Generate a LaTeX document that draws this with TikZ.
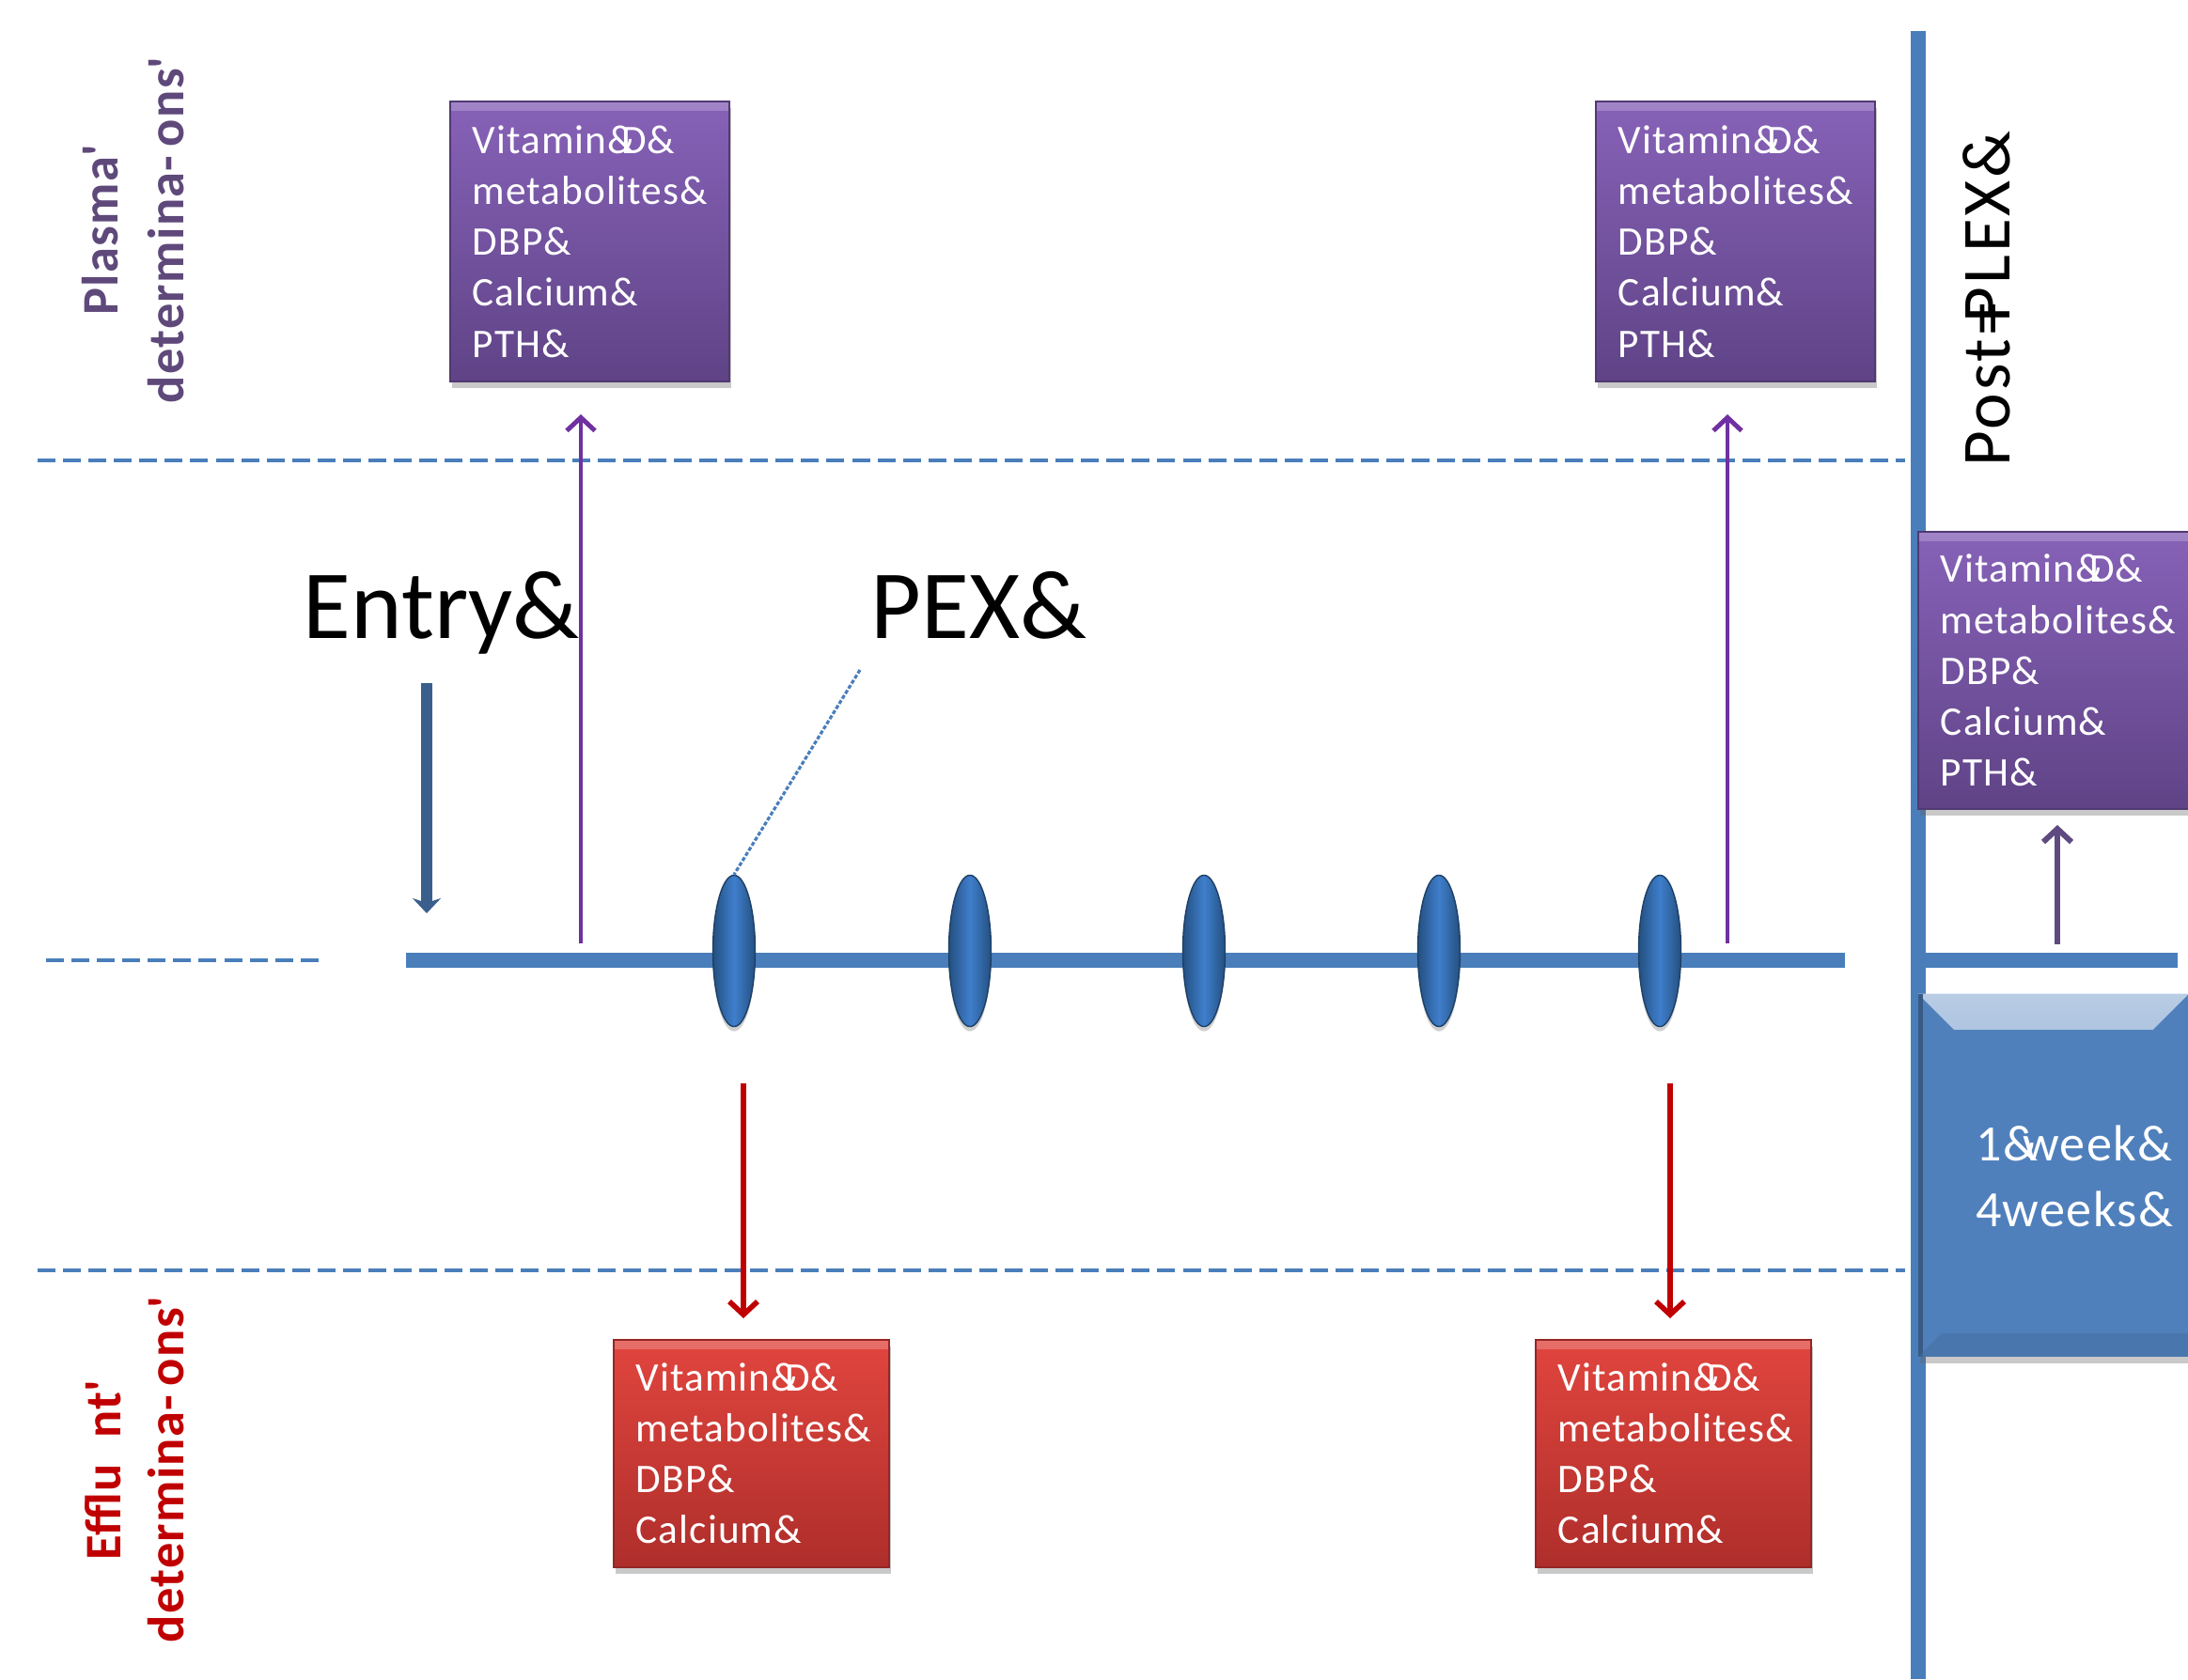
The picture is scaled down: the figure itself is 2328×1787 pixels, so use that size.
\documentclass[tikz,border=0pt]{standalone}
\usepackage{fontspec}
\setmainfont{Carlito}[LetterSpace=2.5]
\usetikzlibrary{arrows.meta,shadows,shapes.geometric}

\definecolor{tlblue}{HTML}{4A7EBB}
\definecolor{entryblue}{HTML}{3A5F8C}
\definecolor{plum}{HTML}{7030A0}
\definecolor{plumdark}{HTML}{5E4A80}
\definecolor{plasmalab}{HTML}{5F497A}
\definecolor{effred}{HTML}{C00000}
\definecolor{purpleT}{HTML}{8762B8}
\definecolor{purpleB}{HTML}{5F4386}
\definecolor{redT}{HTML}{E1453E}
\definecolor{redB}{HTML}{AE2E2B}
\definecolor{boxblue}{HTML}{5080BC}
\definecolor{ellmid}{HTML}{3F7ECC}
\definecolor{elledge}{HTML}{24507F}

\tikzset{
  x=0.01cm, y=-0.01cm,
  sepline/.style={draw=tlblue, line width=1pt, dash pattern=on 5.4pt off 2.3pt},
  timeline/.style={draw=tlblue, line width=4.3pt},
  databox/.style={rectangle, anchor=north west, inner xsep=0.24cm, inner ysep=0pt,
    text=white, align=left, font=\fontsize{12.3}{15.4}\selectfont,
    drop shadow={shadow xshift=0.02cm, shadow yshift=-0.07cm, opacity=0.35, fill=black!60},
    path picture={\fill[white,opacity=0.22] (path picture bounding box.north west)
      rectangle ([yshift=-0.1cm]path picture bounding box.north east);}},
  plasmabox/.style={databox, top color=purpleT, bottom color=purpleB,
    draw=purpleB!85!black, line width=0.5pt,
    minimum width=2.97cm, minimum height=2.98cm, text width=2.49cm},
  effluentbox/.style={databox, top color=redT, bottom color=redB,
    draw=redB!85!black, line width=0.5pt,
    minimum width=2.93cm, minimum height=2.42cm, text width=2.45cm},
  pexmark/.style={ellipse, minimum width=0.45cm, minimum height=1.61cm, inner sep=0pt,
    left color=elledge, right color=elledge, middle color=ellmid,
    draw=elledge!80!black, line width=0.4pt,
    drop shadow={shadow xshift=0cm, shadow yshift=-0.05cm, opacity=0.3, fill=black!60}},
  uparrow/.style={draw=plum, line width=1.4pt, -{Straight Barb[width=0.3cm,length=0.14cm]}},
  downarrow/.style={draw=effred, line width=1.6pt, -{Straight Barb[width=0.3cm,length=0.14cm]}},
  sidelabel/.style={rotate=90, anchor=base, font=\fontsize{15.5}{19}\selectfont\bfseries},
  heading/.style={anchor=base west, inner sep=0pt,
    font=\fontsize{29.6}{34}\selectfont\addfontfeatures{LetterSpace=0}},
}

\begin{document}
\begin{tikzpicture}
\useasboundingbox (0,0) rectangle (2328,1787);
\fill[white] (0,0) rectangle (2328,1787);

% section separators
\draw[sepline] (40,490) -- (2027,490);
\draw[sepline] (40,1352) -- (2027,1352);
\draw[sepline] (49,1022) -- (340,1022);

% post-exchange divider
\coordinate (divtop) at (2041,33);
\coordinate (divbot) at (2041,1787);
\draw[draw=tlblue, line width=4.6pt] (divtop) -- (divbot);

% treatment timeline
\coordinate (tlL) at (432,1022);
\coordinate (tlR) at (1963,1022);
\draw[timeline] (tlL) -- (tlR);
\coordinate (tl2L) at (2049,1022);
\coordinate (tl2R) at (2317,1022);
\draw[timeline] (tl2L) -- (tl2R);

% side labels
\node[sidelabel, text=plasmalab] (plasmaA) at (125,245) {Plasma\textquotesingle};
\node[sidelabel, text=plasmalab] (plasmaB) at (195,245) {determina-\,ons\textquotesingle};
\node[sidelabel, text=effred] (effA) at (128,1565) {Efflu\ \ nt\textquotesingle};
\node[sidelabel, text=effred] (effB) at (195,1564) {determina-\,ons\textquotesingle};

% headings
\node[heading] (entry) at (322,679) {Entry\&};
\node[heading] (pex) at (926,679) {PEX\&};
\node[rotate=90, anchor=base, inner sep=0pt, font=\fontsize{20.8}{24}\selectfont\addfontfeatures{LetterSpace=4}] (post) at (2138,318) {Post=\kern-0.3em PLEX\&};

% plasma determination boxes
\node[plasmabox] (pl1) at (478,107) {Vitamin\&\kern-0.35em D\&\\metabolites\&\\DBP\&\\Calcium\&\\PTH\&};
\node[plasmabox] (pl2) at (1697,107) {Vitamin\&\kern-0.35em D\&\\metabolites\&\\DBP\&\\Calcium\&\\PTH\&};
\node[plasmabox, minimum width=2.88cm, text width=2.4cm, minimum height=2.95cm] (pl3) at (2040,565) {Vitamin\&\kern-0.35em D\&\\metabolites\&\\DBP\&\\Calcium\&\\PTH\&};

% effluent determination boxes
\node[effluentbox] (ef1) at (652,1425) {Vitamin\&\kern-0.35em D\&\\metabolites\&\\DBP\&\\Calcium\&};
\node[effluentbox] (ef2) at (1633,1425) {Vitamin\&\kern-0.35em D\&\\metabolites\&\\DBP\&\\Calcium\&};

% follow-up box
\node[rectangle, anchor=north west, minimum width=2.88cm, minimum height=3.86cm, inner sep=0pt,
  fill=boxblue, drop shadow={shadow xshift=0.02cm, shadow yshift=-0.07cm, opacity=0.35, fill=black!60},
  path picture={
    \shade[top color=boxblue!40!white, bottom color=boxblue]
      (path picture bounding box.north west) -- (path picture bounding box.north east)
      -- ([xshift=-0.38cm,yshift=-0.38cm]path picture bounding box.north east)
      -- ([xshift=0.38cm,yshift=-0.38cm]path picture bounding box.north west) -- cycle;
    \fill[boxblue!70!black] (path picture bounding box.north west)
      rectangle ([xshift=0.05cm]path picture bounding box.south west);
    \fill[boxblue!85!black, opacity=0.5] (path picture bounding box.south west)
      -- ([xshift=0.25cm,yshift=0.25cm]path picture bounding box.south west)
      -- ([yshift=0.25cm]path picture bounding box.south east)
      -- (path picture bounding box.south east) -- cycle;
  }] (fu) at (2040,1057) {};
\node[text=white, align=center, font=\fontsize{15.4}{19.9}\selectfont] (weeks) at (2207,1252)
  {1\&\kern-0.3em week\&\\4weeks\&};

% exchange sessions
\foreach \i/\xx in {1/781,2/1032,3/1281,4/1531,5/1766}
  \node[pexmark] (p\i) at (\xx,1012) {};

% PEX leader
\coordinate (pexlead) at (915,713);
\draw[draw=tlblue, line width=0.9pt, dash pattern=on 1.2pt off 0.6pt] (pexlead) -- (p1.north);

% entry arrow
\coordinate (entryS) at (454,727);
\coordinate (entryE) at (454,972);
\draw[draw=entryblue, line width=3.4pt, -{Stealth[width=0.3cm,length=0.16cm,inset=0.05cm]}] (entryS) -- (entryE);

% plasma sampling arrows
\coordinate (up1S) at (618,1004);
\coordinate (up1E) at (618,441);
\draw[uparrow] (up1S) -- (up1E);
\coordinate (up2S) at (1838,1004);
\coordinate (up2E) at (1838,441);
\draw[uparrow] (up2S) -- (up2E);
\coordinate (up3S) at (2189,1005);
\coordinate (up3E) at (2189,878);
\draw[uparrow, draw=plumdark, line width=1.7pt] (up3S) -- (up3E);

% effluent sampling arrows
\coordinate (dn1S) at (791,1153);
\coordinate (dn1E) at (791,1403);
\draw[downarrow] (dn1S) -- (dn1E);
\coordinate (dn2S) at (1777,1153);
\coordinate (dn2E) at (1777,1403);
\draw[downarrow] (dn2S) -- (dn2E);
\end{tikzpicture}
\end{document}
